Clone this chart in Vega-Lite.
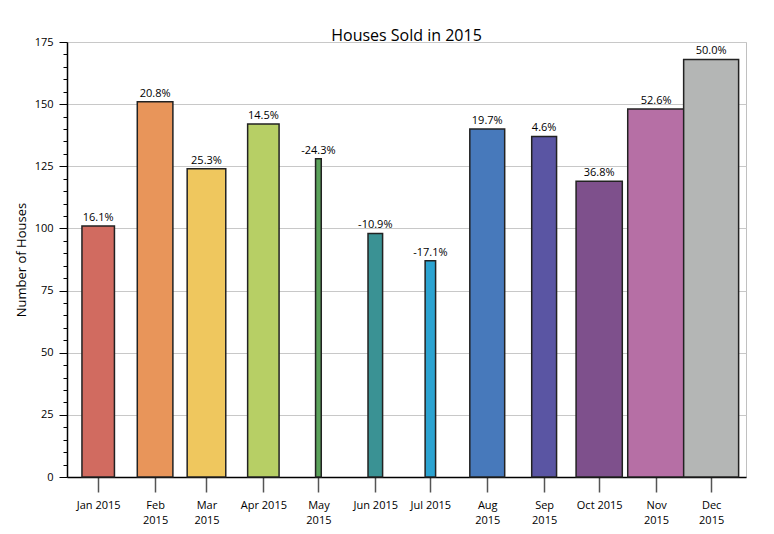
{
  "$schema": "https://vega.github.io/schema/vega-lite/v6.json",
  "description": "Houses sold per month in 2015; bar width shows the change from the previous year.",
  "autosize": "none",
  "width": 679,
  "height": 435,
  "padding": {"left": 67, "top": 42, "right": 28, "bottom": 57},
  "background": "white",
  "title": {
    "text": "Houses Sold in 2015",
    "fontSize": 16,
    "fontWeight": "normal",
    "font": "Open Sans",
    "color": "black",
    "anchor": "middle",
    "offset": -8
  },
  "data": {
    "values": [
      {"month": "2015-01-01T00:00", "sold": 101, "change": 0.161},
      {"month": "2015-02-01T00:00", "sold": 151, "change": 0.208},
      {"month": "2015-03-01T00:00", "sold": 124, "change": 0.253},
      {"month": "2015-04-01T00:00", "sold": 142, "change": 0.145},
      {"month": "2015-05-01T00:00", "sold": 128, "change": -0.243},
      {"month": "2015-06-01T00:00", "sold": 98, "change": -0.109},
      {"month": "2015-07-01T00:00", "sold": 87, "change": -0.171},
      {"month": "2015-08-01T00:00", "sold": 140, "change": 0.197},
      {"month": "2015-09-01T00:00", "sold": 137, "change": 0.046},
      {"month": "2015-10-01T00:00", "sold": 119, "change": 0.368},
      {"month": "2015-11-01T00:00", "sold": 148, "change": 0.526},
      {"month": "2015-12-01T00:00", "sold": 168, "change": 0.5}
    ]
  },
  "encoding": {
    "x": {
      "field": "month",
      "type": "temporal",
      "scale": {
        "domain": [
          {"year": 2014, "month": 12, "date": 15},
          {"year": 2015, "month": 12, "date": 20}
        ],
        "padding": 0
      },
      "axis": {
        "title": null,
        "values": [
          {"year": 2015, "month": 1, "date": 1},
          {"year": 2015, "month": 2, "date": 1},
          {"year": 2015, "month": 3, "date": 1},
          {"year": 2015, "month": 4, "date": 1},
          {"year": 2015, "month": 5, "date": 1},
          {"year": 2015, "month": 6, "date": 1},
          {"year": 2015, "month": 7, "date": 1},
          {"year": 2015, "month": 8, "date": 1},
          {"year": 2015, "month": 9, "date": 1},
          {"year": 2015, "month": 10, "date": 1},
          {"year": 2015, "month": 11, "date": 1},
          {"year": 2015, "month": 12, "date": 1}
        ],
        "labelExpr": "indexof([1, 2, 4, 7, 8, 10, 11], month(datum.value)) >= 0 ? [timeFormat(datum.value, '%b'), timeFormat(datum.value, '%Y')] : timeFormat(datum.value, '%b %Y')",
        "labelFlush": false,
        "labelOverlap": false,
        "labelLineHeight": 15,
        "labelPadding": 7,
        "tickSize": 15,
        "tickColor": "#555555",
        "tickWidth": 1.5,
        "grid": false
      }
    },
    "y": {
      "field": "sold",
      "type": "quantitative",
      "scale": {"domain": [0, 175], "nice": false}
    }
  },
  "layer": [
    {
      "mark": {"type": "bar", "stroke": "#222222", "strokeWidth": 1.5},
      "encoding": {
        "y": {
          "field": "sold",
          "type": "quantitative",
          "scale": {"domain": [0, 175], "nice": false},
          "axis": {
            "orient": "left",
            "title": "Number of Houses",
            "titleFontSize": 13,
            "titleFontWeight": "normal",
            "titlePadding": 6,
            "values": [0, 25, 50, 75, 100, 125, 150, 175],
            "tickSize": 8,
            "tickColor": "black",
            "labelPadding": 6,
            "grid": true
          }
        },
        "size": {
          "field": "change",
          "type": "quantitative",
          "scale": {"domain": [-0.243, 0.526], "range": [5.7, 56.7]},
          "legend": null
        },
        "color": {
          "field": "month",
          "type": "nominal",
          "scale": {
            "range": ["#d16b60", "#e8955a", "#efc75e", "#b7cf65", "#5aa25a", "#3a9294", "#2ba3d1", "#4779bb", "#5a55a3", "#7e508c", "#b66fa5", "#b4b6b5"]
          },
          "legend": null
        }
      }
    },
    {
      "mark": {"type": "text", "baseline": "bottom", "dy": -3, "fontSize": 11, "color": "black"},
      "encoding": {
        "y": {
          "field": "sold",
          "type": "quantitative",
          "scale": {"domain": [0, 175], "nice": false},
          "axis": {
            "orient": "left",
            "title": null,
            "labels": false,
            "domain": false,
            "grid": false,
            "values": [5, 10, 15, 20, 30, 35, 40, 45, 55, 60, 65, 70, 80, 85, 90, 95, 105, 110, 115, 120, 130, 135, 140, 145, 155, 160, 165, 170],
            "tickSize": 4,
            "tickColor": "black"
          }
        },
        "text": {"field": "change", "type": "quantitative", "format": ".1%"}
      }
    }
  ],
  "resolve": {"axis": {"y": "independent"}},
  "config": {
    "locale": {"number": {"decimal": ".", "thousands": ",", "grouping": [3], "currency": ["$", ""], "minus": "-"}},
    "font": "Open Sans",
    "view": {"stroke": "#c0c0c0"},
    "axis": {
      "labelFont": "Open Sans",
      "titleFont": "Open Sans",
      "labelFontSize": 11,
      "labelColor": "black",
      "titleColor": "black",
      "domainColor": "black",
      "domainWidth": 1.5,
      "gridColor": "#c8c8c8",
      "gridWidth": 1
    }
  }
}
